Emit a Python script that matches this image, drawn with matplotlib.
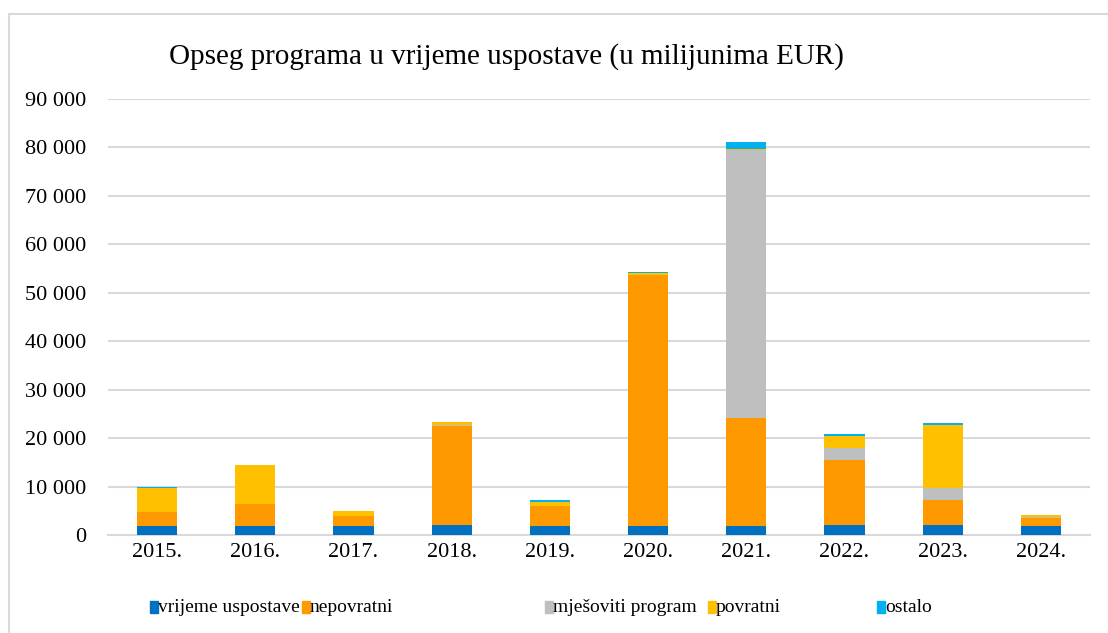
import matplotlib
matplotlib.use("Agg")
import matplotlib.pyplot as plt
from matplotlib.patches import Rectangle
from matplotlib.ticker import FuncFormatter
import numpy as np

plt.rcParams['font.family'] = ['Liberation Serif', 'DejaVu Serif']

years = ['2015.', '2016.', '2017.', '2018.', '2019.', '2020.', '2021.', '2022.', '2023.', '2024.']
series_names = ['vrijeme uspostave', 'nepovratni', 'mješoviti program', 'povratni', 'ostalo']
colors = ['#0070c0', '#ff9900', '#bfbfbf', '#ffc000', '#00b0f0']

vrijeme = [1800, 1800, 1800, 2000, 1800, 1800, 1800, 2000, 2000, 1800]
nepovratni = [2900, 4500, 2050, 20400, 4100, 51800, 22260, 13400, 5150, 1640]
mjesoviti = [0, 0, 0, 400, 0, 0, 55500, 2480, 2540, 200]
povratni = [5000, 8250, 1030, 600, 1000, 500, 200, 2610, 12930, 420]
ostalo = [200, 0, 0, 0, 400, 250, 1300, 270, 410, 0]

data = [vrijeme, nepovratni, mjesoviti, povratni, ostalo]

fig = plt.figure(figsize=(11.08, 6.33), dpi=100)
ax = fig.add_axes([108/1108, 1 - 535/633, 982/1108, 436/633])

x = np.arange(len(years))
bottom = np.zeros(len(years))
for vals, name, col in zip(data, series_names, colors):
    ax.bar(x, vals, width=0.41, bottom=bottom, color=col, label=name, zorder=3)
    bottom += np.array(vals)

ax.set_xlim(-0.5, len(years) - 0.5)
ax.set_ylim(0, 90000)
ax.set_yticks(np.arange(0, 90001, 10000))
ax.yaxis.set_major_formatter(FuncFormatter(lambda v, p: f"{int(v):,}".replace(",", " ")))
ax.set_xticks(x)
ax.set_xticklabels(years)
ax.tick_params(axis='both', length=0, labelsize=16, colors='black')
ax.tick_params(axis='y', pad=16)
ax.tick_params(axis='x', pad=6)
ax.grid(axis='y', color='#d9d9d9', linewidth=1.5, zorder=0)
for s in ['top', 'right', 'left']:
    ax.spines[s].set_visible(False)
ax.spines['bottom'].set_color('#d9d9d9')
ax.spines['bottom'].set_linewidth(1.5)

fig.text(506/1108, 1 - 57/633, 'Opseg programa u vrijeme uspostave (u milijunima EUR)',
         ha='center', va='center', fontsize=21)

# legend drawn by hand, Excel-like spacing
leg_x = [150, 302, 545, 708, 877]
for lx, name, col in zip(leg_x, series_names, colors):
    fig.patches.append(Rectangle((lx / 1108, 1 - 613 / 633), 8 / 1108, 12 / 633,
                                 transform=fig.transFigure, color=col))
    fig.text((lx + 8) / 1108, 1 - 607 / 633, name, ha='left', va='center', fontsize=14)

# outer frame
fig.patches.append(Rectangle((9 / 1108, -0.05), 1.1, 1 - 14 / 633 + 0.05,
                             transform=fig.transFigure, fill=False,
                             edgecolor='#d9d9d9', linewidth=1.5))

fig.savefig('out.png', dpi=100)
